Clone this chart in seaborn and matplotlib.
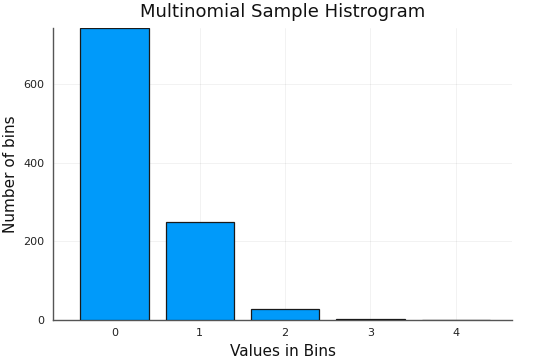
import numpy as np
import pandas as pd
import seaborn as sns
import matplotlib
matplotlib.use("Agg")
import matplotlib.pyplot as plt

bins = [0, 1, 2, 3, 4]
counts = [742, 249, 28, 2, 1]

df = pd.DataFrame({"bin": bins, "count": counts})

sns.set_style("white")
plt.rcParams["font.family"] = ["DejaVu Sans"]

fig = plt.figure(figsize=(5.4, 3.6), dpi=100)
ax = fig.add_axes([53 / 540, 40 / 360, (512 - 53) / 540, (320 - 28) / 360])

sns.barplot(data=df, x="bin", y="count", color="#009afa", saturation=1,
            width=0.8, edgecolor="#1a1a1a", linewidth=0.9, ax=ax, zorder=3)

ax.set_xlim(-0.72, 4.66)
ax.set_ylim(0, max(counts))
ax.set_yticks([0, 200, 400, 600])
ax.grid(True, color="#000000", alpha=0.06, linewidth=0.6, zorder=0)
ax.set_axisbelow(True)
for s in ["top", "right"]:
    ax.spines[s].set_visible(False)
for s in ["left", "bottom"]:
    ax.spines[s].set_color("#555555")
    ax.spines[s].set_linewidth(1.0)
ax.tick_params(direction="in", length=3, width=0.8, colors="#222222",
               labelsize=8, pad=6)
ax.set_title("Multinomial Sample Histrogram", fontsize=13, color="#111111", pad=8)
ax.set_xlabel("Values in Bins", fontsize=11, color="#111111")
ax.set_ylabel("Number of bins", fontsize=11, color="#111111")

fig.savefig("out.png", dpi=100)
